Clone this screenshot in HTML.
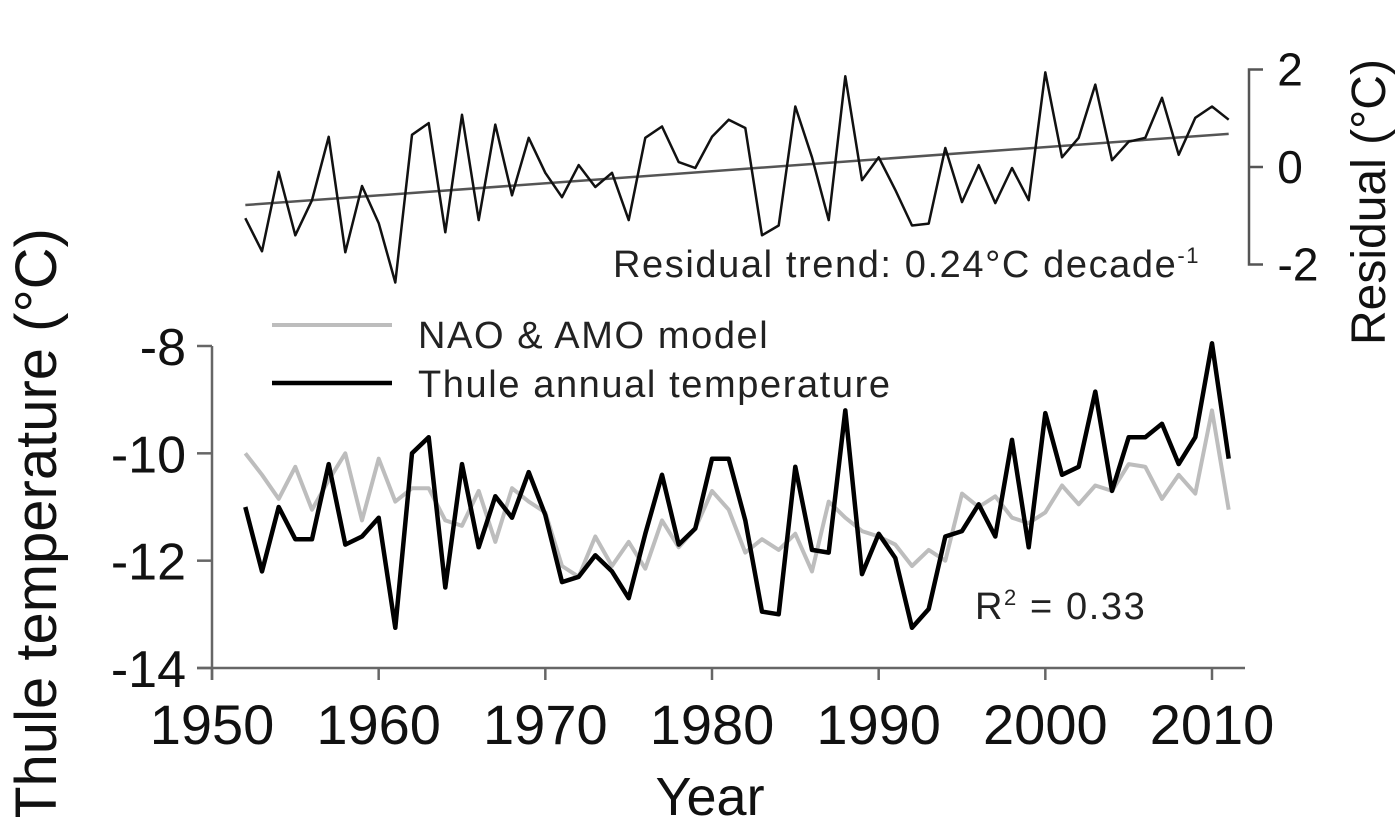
<!DOCTYPE html>
<html><head><meta charset="utf-8"><style>
html,body{margin:0;padding:0;background:#fff;}
svg{display:block;font-family:"Liberation Sans",Arial,sans-serif;}
</style></head><body>
<svg id="chart" width="1400" height="817" viewBox="0 0 1400 817" xmlns="http://www.w3.org/2000/svg">
<g id="axes"></g>
<g id="marks"></g>
<g id="labels"></g>
</svg>
<script>
const years = [];
for (let y = 1952; y <= 2011; y++) years.push(y);
const thuleTemp = [-11.0,-12.2,-11.0,-11.6,-11.6,-10.2,-11.7,-11.55,-11.2,-13.25,-10.0,-9.7,-12.5,-10.2,-11.75,-10.8,-11.2,-10.35,-11.15,-12.4,-12.3,-11.9,-12.2,-12.7,-11.5,-10.4,-11.7,-11.4,-10.1,-10.1,-11.25,-12.95,-13.0,-10.25,-11.8,-11.85,-9.2,-12.25,-11.5,-11.95,-13.25,-12.9,-11.55,-11.45,-10.95,-11.55,-9.75,-11.75,-9.25,-10.4,-10.25,-8.85,-10.7,-9.7,-9.7,-9.45,-10.2,-9.7,-7.95,-10.1];
const modelTemp = [-10.0,-10.4,-10.85,-10.25,-11.05,-10.5,-10.0,-11.25,-10.1,-10.9,-10.65,-10.65,-11.25,-11.35,-10.7,-11.65,-10.65,-10.9,-11.1,-12.1,-12.3,-11.55,-12.1,-11.65,-12.15,-11.25,-11.75,-11.4,-10.7,-11.05,-11.85,-11.6,-11.8,-11.5,-12.2,-10.9,-11.2,-11.45,-11.55,-11.7,-12.1,-11.8,-12.0,-10.75,-11.0,-10.8,-11.2,-11.3,-11.1,-10.6,-10.95,-10.6,-10.7,-10.2,-10.25,-10.85,-10.4,-10.75,-9.2,-11.05];
const residual = [-1.05,-1.73,-0.1,-1.4,-0.68,0.62,-1.75,-0.39,-1.15,-2.37,0.66,0.9,-1.34,1.07,-1.09,0.87,-0.58,0.6,-0.12,-0.62,0.04,-0.41,-0.12,-1.09,0.6,0.83,0.1,-0.02,0.62,0.97,0.8,-1.4,-1.2,1.24,0.2,-1.09,1.86,-0.27,0.2,-0.47,-1.2,-1.16,0.39,-0.72,0.04,-0.74,-0.02,-0.68,1.94,0.2,0.6,1.69,0.14,0.52,0.6,1.42,0.25,1.01,1.24,0.97];
const trendStart = [1952, -0.78];
const trendEnd = [2011, 0.68];
const xTicks = [1950,1960,1970,1980,1990,2000,2010];
const yTicks = [-8,-10,-12,-14];
const resTicks = [2,0,-2];

const NS = "http://www.w3.org/2000/svg";
const X = yr => 212 + (yr - 1950) * (1000 / 60);
const Y = v => 346 + (-8 - v) * (322 / 6);
const R = v => 167 - v * 48.75;

function mk(parent, tag, attrs, text) {
  const el = document.createElementNS(NS, tag);
  for (const k in attrs) el.setAttribute(k, attrs[k]);
  if (text !== undefined) el.textContent = text;
  document.getElementById(parent).appendChild(el);
  return el;
}
function pts(arr, f) { return arr.map((v, i) => X(years[i]).toFixed(1) + "," + f(v).toFixed(1)).join(" "); }

let el;
el = mk("axes", "path", {d: `M212 ${Y(-8)} L212 680 M197 668 L1245 668`, stroke: "#666", "stroke-width": 2.5, fill: "none"});


yTicks.forEach(t => {
  el = mk("axes", "line", {x1: 197, x2: 212, y1: Y(t), y2: Y(t), stroke: "#666", "stroke-width": 2.5});
  
  
  el = mk("labels", "text", {x: 186, y: Y(t) + 19, "text-anchor": "end", "font-size": 52, fill: "#111"}, String(t));
  
  
});
xTicks.forEach(t => {
  el = mk("axes", "line", {x1: X(t), x2: X(t), y1: 668, y2: 680, stroke: "#666", "stroke-width": 2.5});
  
  
  el = mk("labels", "text", {x: X(t), y: 744, "text-anchor": "middle", "font-size": 56, fill: "#111"}, String(t));
  
  
});
el = mk("axes", "path", {d: `M1263 ${R(2)} L1249 ${R(2)} L1249 ${R(-2)} L1263 ${R(-2)} M1249 ${R(0)} L1263 ${R(0)}`, stroke: "#555", "stroke-width": 2.5, fill: "none"});


resTicks.forEach(t => {
  el = mk("labels", "text", {x: t < 0 ? 1298 : 1290, y: R(t) + 16, "text-anchor": "middle", "font-size": 46, fill: "#111"}, String(t));
  
  
});

el = mk("marks", "polyline", {points: pts(modelTemp, Y), fill: "none", stroke: "#bdbdbd", "stroke-width": 4, "stroke-linejoin": "round"});


el = mk("marks", "polyline", {points: pts(thuleTemp, Y), fill: "none", stroke: "#000", "stroke-width": 4.5, "stroke-linejoin": "round"});


el = mk("marks", "line", {x1: X(trendStart[0]), y1: R(trendStart[1]), x2: X(trendEnd[0]), y2: R(trendEnd[1]), stroke: "#555", "stroke-width": 2.5});


el = mk("marks", "polyline", {points: pts(residual, R), fill: "none", stroke: "#111", "stroke-width": 2.5, "stroke-linejoin": "round"});



el = mk("labels", "line", {x1: 272, x2: 392, y1: 325, y2: 325, stroke: "#bdbdbd", "stroke-width": 4});


el = mk("labels", "text", {x: 418, y: 348, "font-size": 38, "letter-spacing": 1.6, fill: "#222"}, "NAO & AMO model");


el = mk("labels", "line", {x1: 272, x2: 392, y1: 383, y2: 383, stroke: "#000", "stroke-width": 4.5});


el = mk("labels", "text", {x: 418, y: 397, "font-size": 38, "letter-spacing": 1.6, fill: "#222"}, "Thule annual temperature");



el = mk("labels", "text", {x: 613, y: 277, "font-size": 38, "letter-spacing": 1.6, fill: "#222"});


el.innerHTML = 'Residual trend: 0.24°C decade<tspan font-size="22" dy="-14">-1</tspan>';
el = mk("labels", "text", {x: 975, y: 619, "font-size": 38, "letter-spacing": 1.6, fill: "#222"});


el.innerHTML = 'R<tspan font-size="22" dy="-14">2</tspan><tspan dy="14"> = 0.33</tspan>';

el = mk("labels", "text", {x: 0, y: 0, transform: "translate(56,525) rotate(-90)", "text-anchor": "middle", "font-size": 58, fill: "#111"}, "Thule temperature (°C)");


el = mk("labels", "text", {x: 710, y: 815, "text-anchor": "middle", "font-size": 54, fill: "#111"}, "Year");


el = mk("labels", "text", {x: 0, y: 0, transform: "translate(1385,345) rotate(-90)", "text-anchor": "start", "font-size": 48, fill: "#111"}, "Residual (°C)");


</script>
</body></html>
